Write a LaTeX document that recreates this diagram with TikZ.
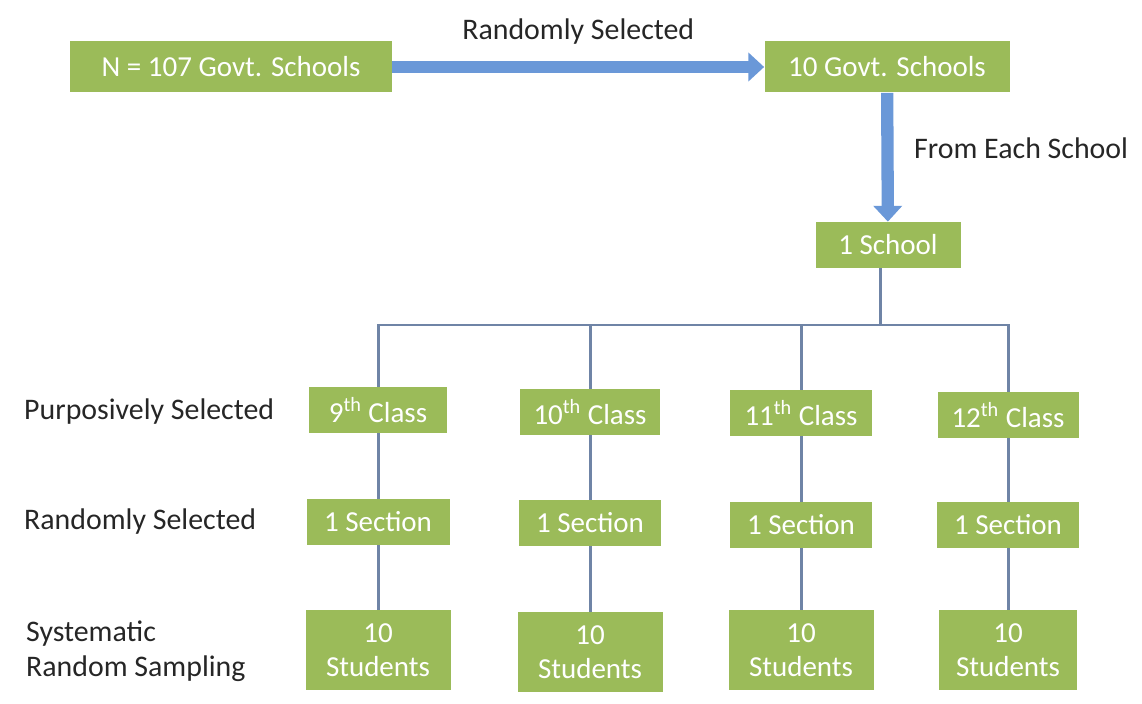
\documentclass[tikz,border=0pt]{standalone}
\usepackage{fontspec}
\setmainfont{Carlito}
\usetikzlibrary{arrows.meta}
\definecolor{boxgreen}{HTML}{9BBB59}
\definecolor{arrowblue}{HTML}{6A98D8}
\definecolor{linkblue}{HTML}{6F84A6}
\tikzset{
  gbox/.style={fill=boxgreen, text=white, font=\fontsize{16.5}{19}\selectfont, minimum height=0.92cm, inner sep=2pt, align=center},
  lbl/.style={font=\fontsize{17}{20}\selectfont, text=black!85},
  bigarrow/.style={line width=7pt, arrowblue, -{Triangle[length=9pt,width=16pt]}},
  link/.style={line width=1.7pt, linkblue}
}
\begin{document}
\begin{tikzpicture}
\useasboundingbox (0,0) rectangle (22.84,-14.06);
\node[gbox, minimum width=6.44cm, minimum height=1.02cm] (all) at (4.62,-1.34) {N = 107 Govt. Schools};
\node[gbox, minimum width=4.9cm, minimum height=1.02cm] (ten) at (17.74,-1.34) {10 Govt. Schools};
\node[gbox, minimum width=2.9cm] (one) at (17.76,-4.9) {1 School};
\draw[bigarrow] (all) -- (ten) node[midway, above=2.2mm, lbl]{Randomly Selected};
\draw[bigarrow] (ten) -- (one);
\node[lbl, anchor=west] (each) at (18.16,-2.96) {From Each School};

\node[gbox, minimum width=2.76cm] (c9) at (7.56,-8.2) {9\textsuperscript{th} Class};
\node[gbox, minimum width=2.8cm] (c10) at (11.8,-8.24) {10\textsuperscript{th} Class};
\node[gbox, minimum width=2.84cm] (c11) at (16.02,-8.26) {11\textsuperscript{th} Class};
\node[gbox, minimum width=2.82cm] (c12) at (20.16,-8.3) {12\textsuperscript{th} Class};
\node[gbox, minimum width=2.86cm] (s9) at (7.56,-10.44) {1 Section};
\node[gbox, minimum width=2.84cm] (s10) at (11.8,-10.46) {1 Section};
\node[gbox, minimum width=2.84cm] (s11) at (16.02,-10.5) {1 Section};
\node[gbox, minimum width=2.84cm] (s12) at (20.16,-10.5) {1 Section};
\node[gbox, minimum width=2.9cm, minimum height=1.6cm] (st9) at (7.56,-13.0) {10\\Students};
\node[gbox, minimum width=2.9cm, minimum height=1.6cm] (st10) at (11.8,-13.04) {10\\Students};
\node[gbox, minimum width=2.9cm, minimum height=1.6cm] (st11) at (16.02,-13.0) {10\\Students};
\node[gbox, minimum width=2.76cm, minimum height=1.6cm] (st12) at (20.16,-13.0) {10\\Students};

\node[lbl, anchor=west] (purp) at (0.36,-8.24) {Purposively Selected};
\node[lbl, anchor=west] (rand) at (0.36,-10.44) {Randomly Selected};
\node[lbl, anchor=west, align=left] (syst) at (0.4,-13.02) {Systematic\\Random Sampling};

\coordinate (bus) at (17.6,-6.5);
\draw[link] (one.south -| bus) -- (bus);
\draw[link] (c9.north) |- (bus);
\draw[link] (c10.north) |- (bus);
\draw[link] (c11.north) |- (bus);
\draw[link] (c12.north) |- (bus);
\draw[link] (c9) -- (s9);
\draw[link] (c10) -- (s10);
\draw[link] (c11) -- (s11);
\draw[link] (c12) -- (s12);
\draw[link] (s9) -- (st9);
\draw[link] (s10) -- (st10);
\draw[link] (s11) -- (st11);
\draw[link] (s12) -- (st12);
\end{tikzpicture}
\end{document}
